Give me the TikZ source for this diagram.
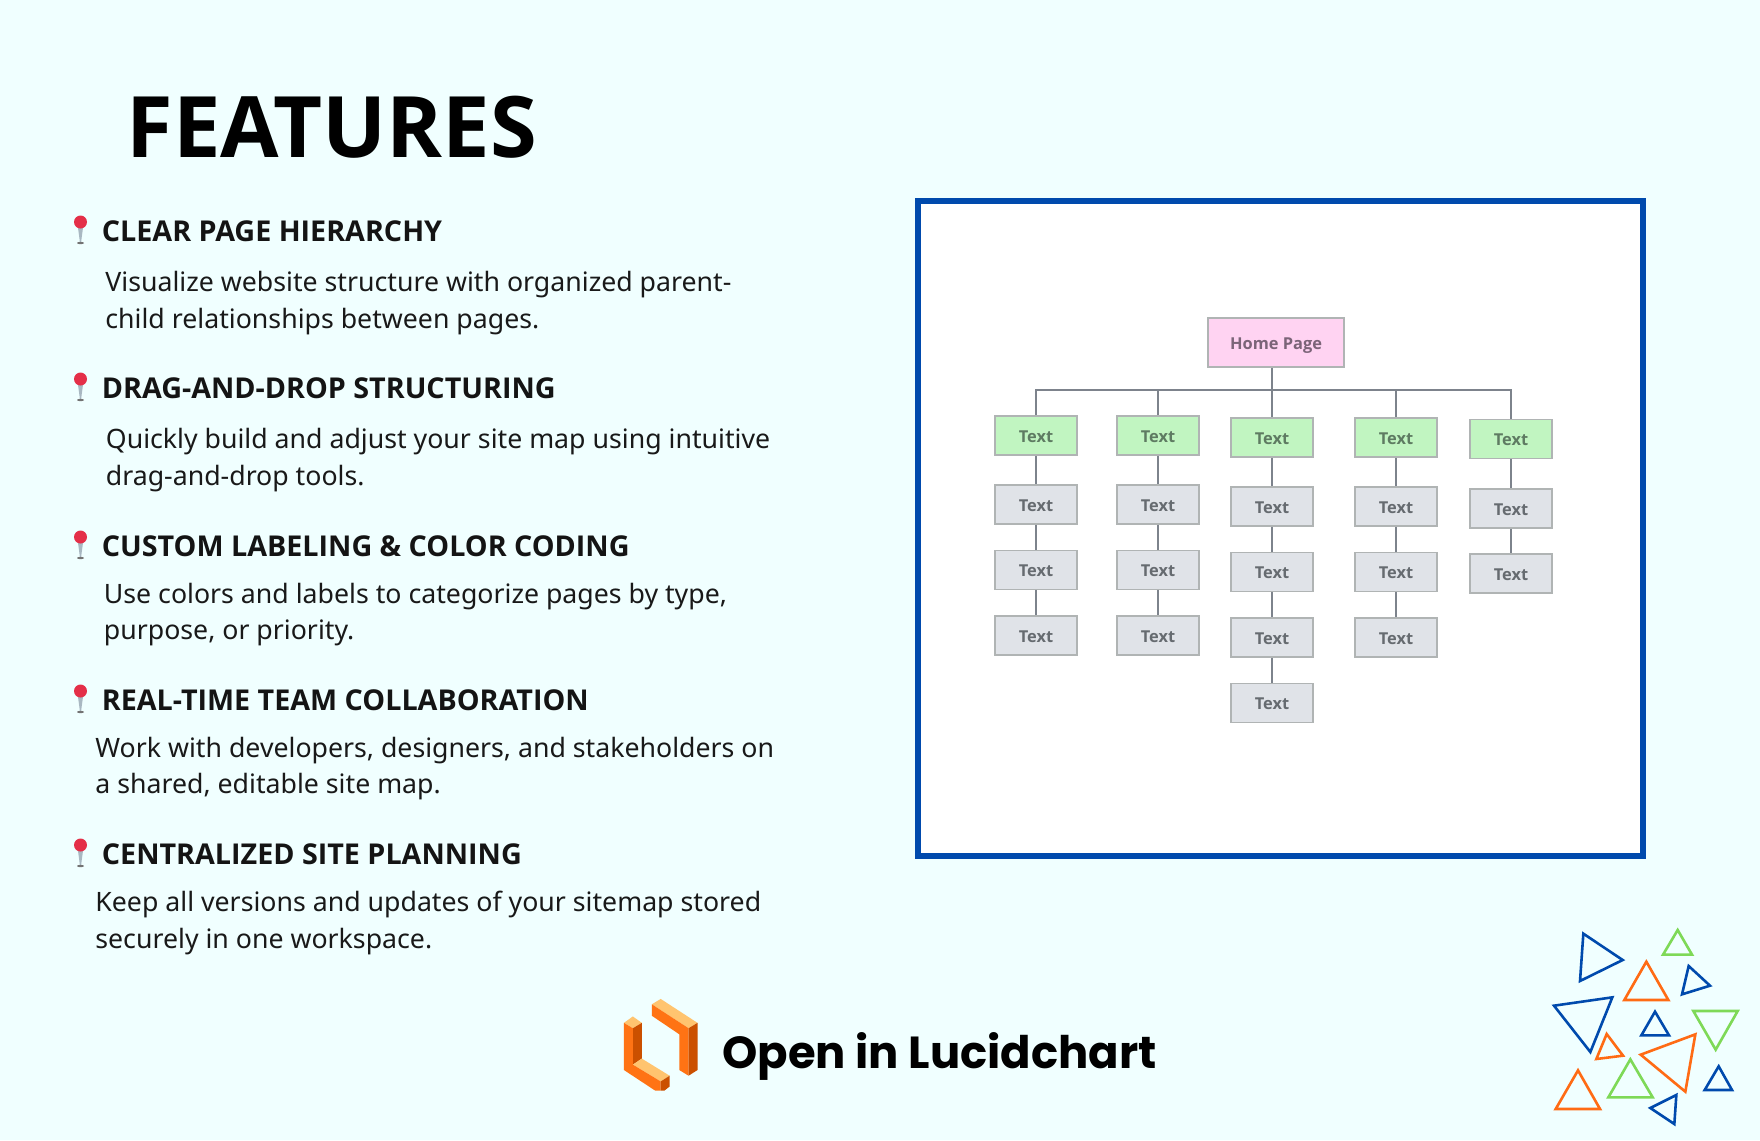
\documentclass[tikz,border=0pt]{standalone}
\usepackage{fontspec}
\setmainfont{Noto Sans}
\newfontfamily\popp{Poppins}
\newfontfamily\boxf{Open Sans}
\definecolor{bgc}{HTML}{F0FFFF}
\definecolor{bluec}{HTML}{004AAD}
\definecolor{orangec}{HTML}{FF6B14}
\definecolor{greenc}{HTML}{7ED957}
\definecolor{logol}{HTML}{FFC46F}
\definecolor{logom}{HTML}{FF7314}
\definecolor{logod}{HTML}{CB5000}
\definecolor{boxg}{HTML}{C1F5C1}
\definecolor{boxn}{HTML}{E0E3E8}
\definecolor{boxh}{HTML}{FFD3F2}
\definecolor{boxe}{HTML}{B0B4B4}
\definecolor{linkc}{HTML}{7D838C}
\definecolor{pinr}{HTML}{E42F48}
\definecolor{pins}{HTML}{A9B8C2}
\definecolor{txg}{HTML}{5E7B62}
\definecolor{txn}{HTML}{666B70}
\definecolor{txh}{HTML}{7B6478}
\tikzset{
 x=0.5pt,y=-0.5pt,
 heading/.style={anchor=base west,inner sep=0pt,font=\boxf\fontsize{42.4}{50}\selectfont\bfseries,text=black},
 ftitle/.style={anchor=base west,inner sep=0pt,font=\boxf\fontsize{14.35}{18}\selectfont\bfseries,text=black!92},
 fbody/.style={anchor=base west,inner sep=0pt,font=\fontsize{13.35}{18.5}\selectfont,text=black!90,align=left},
 cta/.style={anchor=base west,inner sep=0pt,font=\popp\fontsize{22.45}{28}\selectfont\bfseries,text=black},
 sbox/.style={draw=boxe,line width=0.8pt,minimum width=41pt,minimum height=19.5pt,inner sep=0pt,text height=6.8pt,text depth=0pt,font=\boxf\fontsize{8.2}{10}\selectfont\bfseries},
 gbox/.style={sbox,fill=boxg,text=txg},
 nbox/.style={sbox,fill=boxn,text=txn},
 hbox/.style={sbox,minimum width=68pt,minimum height=24.5pt,fill=boxh,text=txh},
 link/.style={draw=linkc,line width=1.3pt},
 tri/.style={line width=1.3pt,fill=none},
}
\newcommand{\tripl}[7]{\draw[tri,draw=#1] ({1530+#2/3},{911+#3/3}) -- ({1530+#4/3},{911+#5/3}) -- ({1530+#6/3},{911+#7/3}) -- cycle;}
\newcommand{\mappin}[2]{%
 \fill[pins] ({#1-3},{#2+2}) -- ({#1+3},{#2+2}) -- ({#1+0.6},{#2+20}) -- ({#1-0.6},{#2+20}) -- cycle;
 \fill[black!55] (#1,{#2+21}) ellipse (3.5 and 1.2);
 \fill[pinr] (#1,#2) circle (6.5);}
\newcommand{\lgp}[2]{({600+#1/2.8},{980+#2/2.8})}
\begin{document}
\begin{tikzpicture}
\useasboundingbox (0,0) rectangle (1760,1140);
\fill[bgc] (0,0) rectangle (1760,1140);
\node[heading] (head) at (126.5,157) {FEATURES};
\foreach \yy in {222,379,537,691,845} {\mappin{80.5}{\yy}}
\node[ftitle] (t1) at (101.5,241) {CLEAR PAGE HIERARCHY};
\node[fbody] (b1a) at (105,291) {Visualize website structure with organized parent-};
\node[fbody] (b1b) at (105,328) {child relationships between pages.};
\node[ftitle] (t2) at (101.5,398) {DRAG-AND-DROP STRUCTURING};
\node[fbody] (b2a) at (105.5,448) {Quickly build and adjust your site map using intuitive};
\node[fbody] (b2b) at (105.5,485) {drag-and-drop tools.};
\node[ftitle] (t3) at (101.5,556) {CUSTOM LABELING \& COLOR CODING};
\node[fbody] (b3a) at (103.5,603) {Use colors and labels to categorize pages by type,};
\node[fbody] (b3b) at (103.5,639) {purpose, or priority.};
\node[ftitle] (t4) at (101.5,710) {REAL-TIME TEAM COLLABORATION};
\node[fbody] (b4a) at (95,757) {Work with developers, designers, and stakeholders on};
\node[fbody] (b4b) at (95,793) {a shared, editable site map.};
\node[ftitle] (t5) at (101.5,864) {CENTRALIZED SITE PLANNING};
\node[fbody] (b5a) at (95,911) {Keep all versions and updates of your sitemap stored};
\node[fbody] (b5b) at (95,948) {securely in one workspace.};
% frame
\draw[bluec,line width=3pt,fill=white] (918,201) rectangle (1643,856);
% sitemap
\coordinate (hub) at (1272,390);
\node[hbox] (home) at (1276,342.5) {Home Page};
\node[gbox] (a1) at (1036,435.5) {Text};
\node[nbox] (a2) at (1036,504.5) {Text};
\node[nbox] (a3) at (1036,570) {Text};
\node[nbox] (a4) at (1036,635.5) {Text};
\node[gbox] (c1) at (1158,435.5) {Text};
\node[nbox] (c2) at (1158,504.5) {Text};
\node[nbox] (c3) at (1158,570) {Text};
\node[nbox] (c4) at (1158,635.5) {Text};
\node[gbox] (d1) at (1272,437.5) {Text};
\node[nbox] (d2) at (1272,506.5) {Text};
\node[nbox] (d3) at (1272,572) {Text};
\node[nbox] (d4) at (1272,637.5) {Text};
\node[nbox] (d5) at (1272,703) {Text};
\node[gbox] (e1) at (1396,437.5) {Text};
\node[nbox] (e2) at (1396,506.5) {Text};
\node[nbox] (e3) at (1396,572) {Text};
\node[nbox] (e4) at (1396,637.5) {Text};
\node[gbox] (f1) at (1511,439) {Text};
\node[nbox] (f2) at (1511,508.5) {Text};
\node[nbox] (f3) at (1511,573.5) {Text};
\draw[link] (home.south -| hub) -- (d1.north);
\draw[link] (a1.north) |- (hub);
\draw[link] (c1.north) |- (hub);
\draw[link] (e1.north) |- (hub);
\draw[link] (f1.north) |- (hub);
\draw[link] (a1) -- (a2);\draw[link] (a2) -- (a3);\draw[link] (a3) -- (a4);
\draw[link] (c1) -- (c2);\draw[link] (c2) -- (c3);\draw[link] (c3) -- (c4);
\draw[link] (d1) -- (d2);\draw[link] (d2) -- (d3);\draw[link] (d3) -- (d4);\draw[link] (d4) -- (d5);
\draw[link] (e1) -- (e2);\draw[link] (e2) -- (e3);\draw[link] (e3) -- (e4);
\draw[link] (f1) -- (f2);\draw[link] (f2) -- (f3);
% logo
\fill[logol] \lgp{145}{68} -- \lgp{170}{53} -- \lgp{273}{120} -- \lgp{248}{135} -- cycle;
\fill[logom] \lgp{145}{68} -- \lgp{248}{135} -- \lgp{248}{268} -- \lgp{222}{252} -- \lgp{222}{152} -- \lgp{145}{100} -- cycle;
\fill[logod] \lgp{248}{135} -- \lgp{273}{120} -- \lgp{273}{252} -- \lgp{248}{268} -- cycle;
\fill[logol] \lgp{67}{120} -- \lgp{92}{102} -- \lgp{117}{120} -- \lgp{92}{135} -- cycle;
\fill[logod] \lgp{92}{135} -- \lgp{117}{120} -- \lgp{117}{220} -- \lgp{92}{237} -- cycle;
\fill[logol] \lgp{92}{237} -- \lgp{117}{220} -- \lgp{195}{268} -- \lgp{170}{284} -- cycle;
\fill[logom] \lgp{67}{120} -- \lgp{92}{135} -- \lgp{92}{237} -- \lgp{170}{284} -- \lgp{170}{310} -- \lgp{155}{310} -- \lgp{67}{252} -- cycle;
\fill[logod] \lgp{170}{284} -- \lgp{195}{268} -- \lgp{195}{298} -- \lgp{180}{310} -- \lgp{170}{310} -- cycle;
\node[cta] (open) at (722,1068) {Open in Lucidchart};
% triangles
\tripl{bluec}{160}{68}{278}{147}{150}{210}
\tripl{greenc}{443}{57}{486}{131}{399}{131}
\tripl{orangec}{349}{152}{415}{267}{283}{267}
\tripl{bluec}{476}{165}{540}{224}{456}{250}
\tripl{bluec}{72}{284}{247}{259}{181}{423}
\tripl{bluec}{375}{302}{417}{373}{334}{373}
\tripl{greenc}{490}{300}{623}{300}{557}{416}
\tripl{orangec}{230}{369}{279}{434}{199}{444}
\tripl{orangec}{496}{370}{466}{542}{332}{431}
\tripl{greenc}{301}{445}{368}{559}{235}{559}
\tripl{bluec}{566}{466}{606}{537}{524}{537}
\tripl{orangec}{144}{478}{210}{594}{77}{594}
\tripl{bluec}{439}{552}{433}{639}{361}{591}
\end{tikzpicture}
\end{document}
